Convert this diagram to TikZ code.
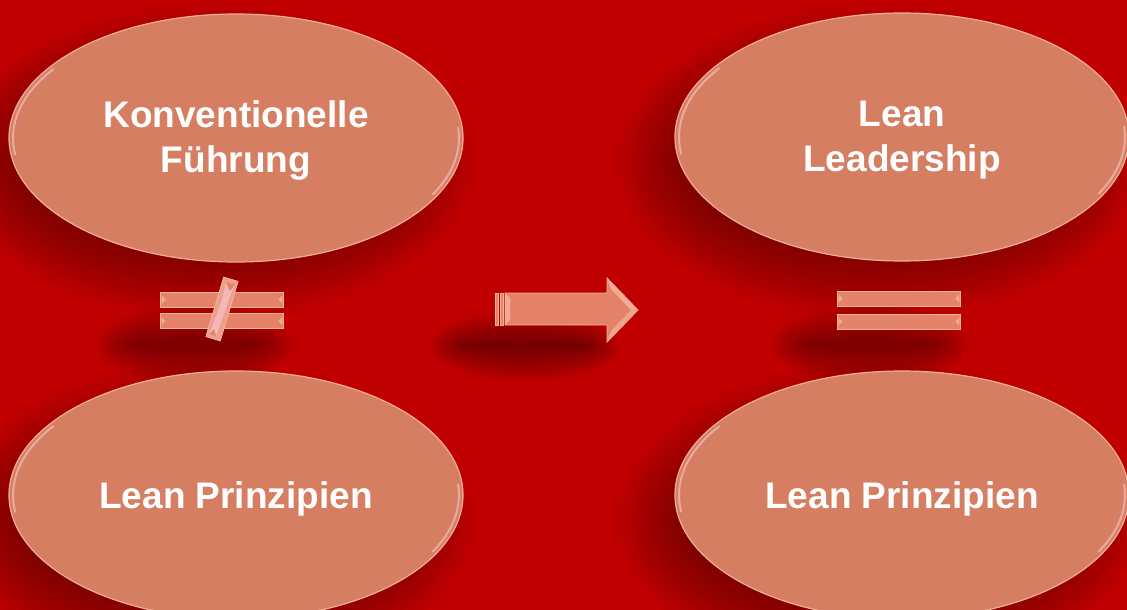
\documentclass[tikz,border=0pt]{standalone}
\usepackage{fontspec}
\setmainfont{Liberation Sans}
\usetikzlibrary{shapes.geometric}
\definecolor{bg}{HTML}{C00000}
\definecolor{ellin}{HTML}{D67E62}
\definecolor{ellout}{HTML}{E68265}
\definecolor{rim}{HTML}{F2AE92}
\definecolor{gloss}{HTML}{F2B8B8}
\definecolor{barfill}{HTML}{E4836A}
\definecolor{barrim}{HTML}{F4B498}
\definecolor{bevel}{HTML}{F2AC96}
\definecolor{slashfill}{HTML}{EBA08E}
\definecolor{slashin}{HTML}{F2B8B8}
\pgfdeclareradialshading{ellshade}{\pgfpoint{0bp}{0bp}}{color(0bp)=(ellin); color(30bp)=(ellin); color(50bp)=(ellout)}
\newcommand\softshadow[6]{%
  \foreach \k in {0,...,17}{%
    \fill[black, opacity=#5] (#1,#2) ellipse [x radius={#3-\k*#6}, y radius={#4-\k*#6}];
  }}
\tikzset{
  bubble/.style={ellipse, minimum width=454pt, minimum height=248pt, inner sep=0pt,
    shading=ellshade, draw=rim, line width=1.2pt},
  lbl/.style={text=white, align=center, inner sep=0pt,
    font=\bfseries\fontsize{37}{45}\selectfont},
  bar/.style={rectangle, minimum width=123pt, minimum height=15pt, inner sep=0pt,
    fill=barfill, draw=barrim, line width=0.8pt},
  bevtri/.style={fill=bevel, draw=none},
  glossarc/.style={draw=gloss, line width=2pt, line cap=round, opacity=0.75},
  arrowbody/.style={fill=barfill, draw=barrim, line width=0.8pt, line join=miter}
}
\begin{document}
\begin{tikzpicture}[x=1pt,y=-1pt]
\useasboundingbox (0,0) rectangle (1127,610);
\clip (0,0) rectangle (1127,610);
\fill[bg] (0,0) rectangle (1127,610);

% soft shadows
\softshadow{212}{162}{262}{158}{0.02}{4}
\softshadow{878}{162}{262}{158}{0.02}{4}
\softshadow{212}{520}{262}{158}{0.02}{4}
\softshadow{878}{520}{262}{158}{0.02}{4}
\softshadow{195}{345}{100}{42}{0.02}{2.2}
\softshadow{525}{346}{95}{36}{0.022}{2}
\softshadow{870}{345}{100}{42}{0.02}{2.2}

% ellipses
\node[bubble] (konv) at (236,138) {};
\node[bubble] (leanlead) at (902,137) {};
\node[bubble] (lpa) at (236,495) {};
\node[bubble] (lpb) at (902,495) {};

\foreach \x/\y in {236/138, 902/137, 236/495, 902/495}{
  \draw[glossarc] (\x,\y) ++(172:223 and 120) arc[start angle=172, end angle=215, x radius=223, y radius=120];
  \draw[glossarc] (\x,\y) ++(-5:223 and 120) arc[start angle=-5, end angle=28, x radius=223, y radius=120];
}

% texts
\node[lbl] (konvtxt) at ([yshift=-3pt]konv.center) {Konventionelle\\Führung};
\node[lbl] (leanleadtxt) at ([yshift=-3pt]leanlead.center) {Lean\\Leadership};
\node[lbl] (lpatxt) at ([yshift=-4pt]lpa.center) {Lean Prinzipien};
\node[lbl] (lpbtxt) at ([yshift=-4pt]lpb.center) {Lean Prinzipien};

% not-equal sign
\node[bar] (neqa) at (222,299.5) {};
\node[bar] (neqb) at (222,321) {};
\foreach \b in {neqa,neqb}{
  \fill[bevtri] ([xshift=1.5pt,yshift=-4pt]\b.west) -- ([xshift=5.5pt]\b.west) -- ([xshift=1.5pt,yshift=4pt]\b.west) -- cycle;
  \fill[bevtri] ([xshift=-1.5pt,yshift=-4pt]\b.east) -- ([xshift=-5.5pt]\b.east) -- ([xshift=-1.5pt,yshift=4pt]\b.east) -- cycle;
}
\coordinate (s1) at (223.7,277.1);
\coordinate (s2) at (238.1,281.4);
\coordinate (s3) at (220.3,340.9);
\coordinate (s4) at (205.9,336.6);
\filldraw[fill=slashfill, draw=barrim, line width=0.8pt] (s1) -- (s2) -- (s3) -- (s4) -- cycle;
\fill[slashin] (226,282) -- (235,284.5) -- (230,296) -- (225,312) -- (220,325) -- (216,336) -- (209,334) -- (214,322) -- (219,308) -- (223,296) -- cycle;
\fill[barfill] (226,282) -- (235,284.5) -- (230,291) -- cycle;
\fill[barfill] (216,336) -- (209,334) -- (214,329) -- cycle;

% arrow
\coordinate (a1) at (505,293);
\coordinate (a2) at (607,293);
\coordinate (a3) at (607,278);
\coordinate (a4) at (638,310);
\coordinate (a5) at (607,342);
\coordinate (a6) at (607,325);
\coordinate (a7) at (505,325);
\filldraw[arrowbody] (a1) -- (a2) -- (a3) -- (a4) -- (a5) -- (a6) -- (a7) -- cycle;
\fill[bevel] (a3) -- (a4) -- (631,310) -- (611,289) -- cycle;
\fill[bevel!80!barfill] (a5) -- (a4) -- (631,310) -- (611,331) -- cycle;
\fill[bevel] (a1) -- (510,298) -- (510,320) -- (a7) -- cycle;
\filldraw[fill=barfill, draw=barrim, line width=0.5pt] (495,293) rectangle (498,325);
\filldraw[fill=barfill, draw=barrim, line width=0.5pt] (500,293) rectangle (503,325);

% equal sign
\node[bar] (eqa) at (899,298.5) {};
\node[bar] (eqb) at (899,321.5) {};
\foreach \b in {eqa,eqb}{
  \fill[bevtri] ([xshift=1.5pt,yshift=-4pt]\b.west) -- ([xshift=5.5pt]\b.west) -- ([xshift=1.5pt,yshift=4pt]\b.west) -- cycle;
  \fill[bevtri] ([xshift=-1.5pt,yshift=-4pt]\b.east) -- ([xshift=-5.5pt]\b.east) -- ([xshift=-1.5pt,yshift=4pt]\b.east) -- cycle;
}
\end{tikzpicture}
\end{document}
